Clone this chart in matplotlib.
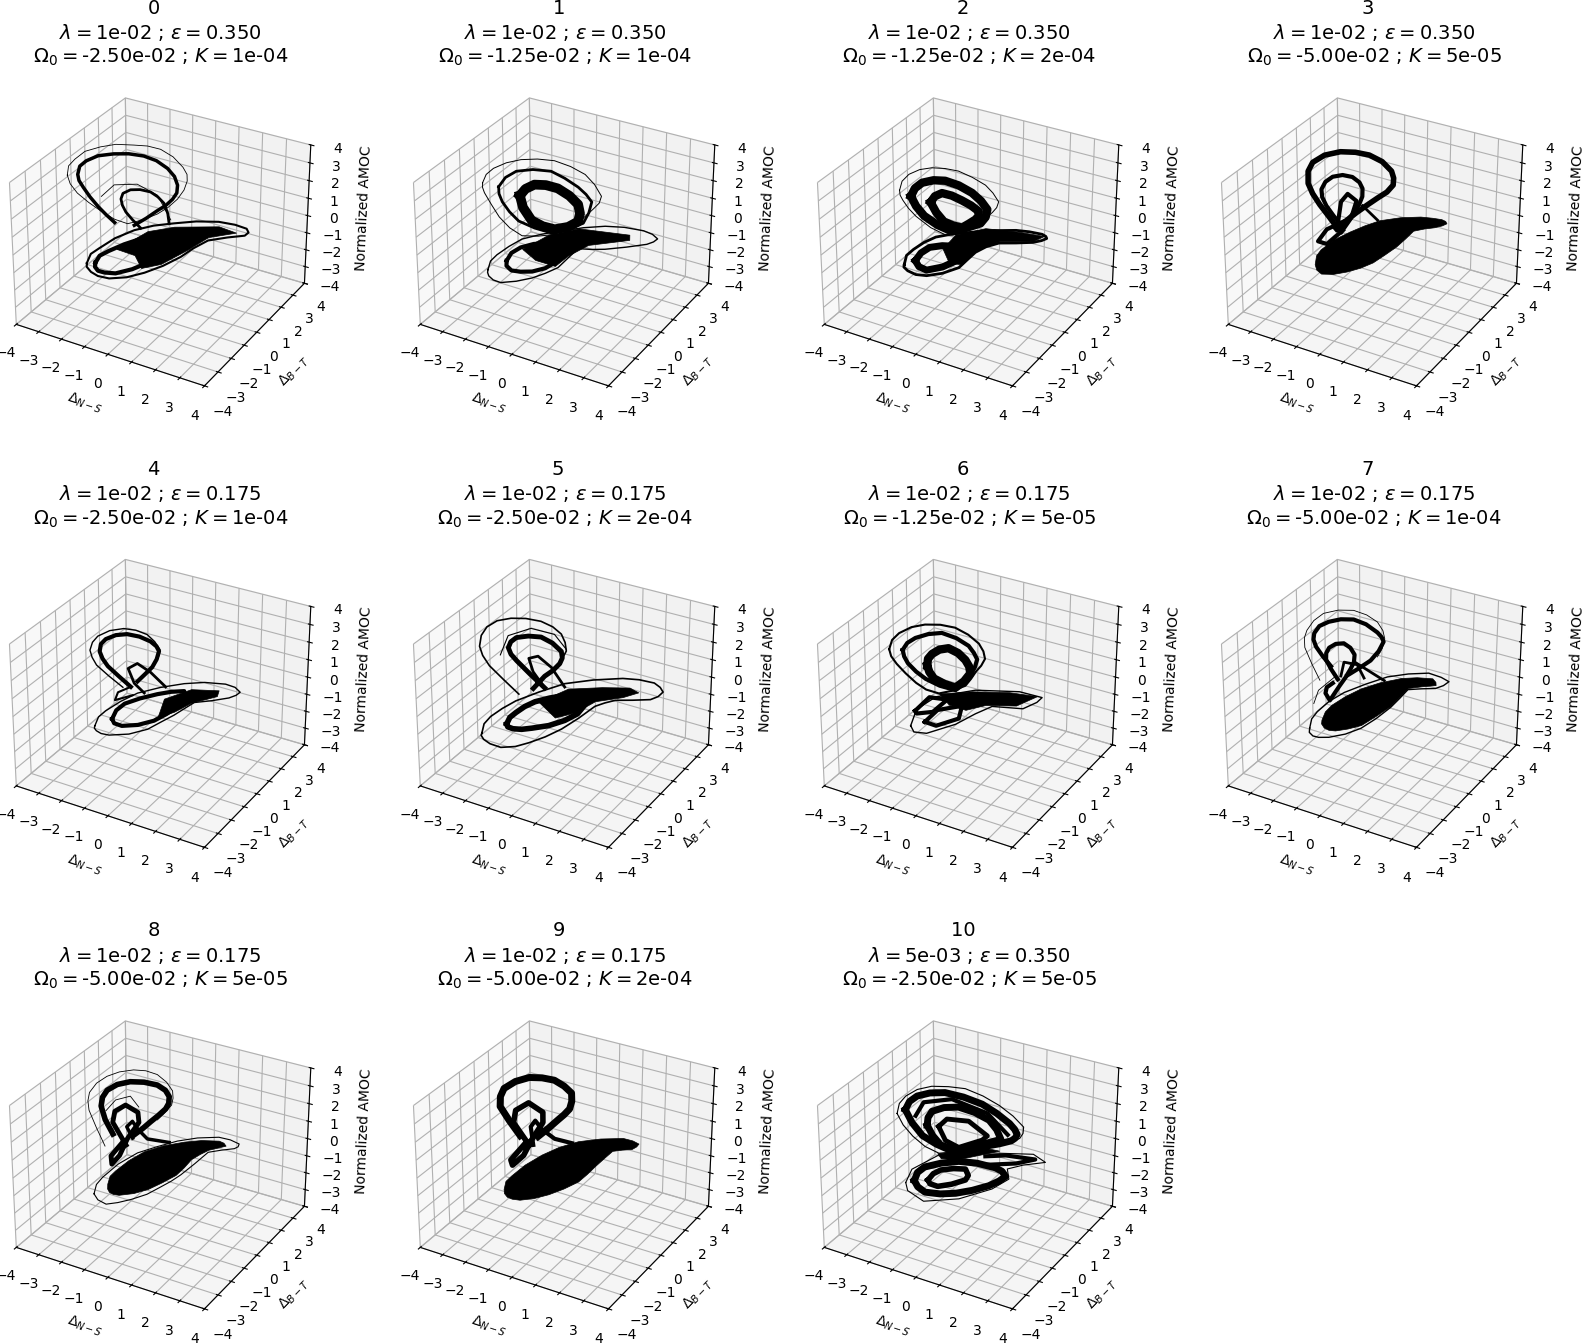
import matplotlib
matplotlib.use("Agg")
import matplotlib.pyplot as plt
import numpy as np
from mpl_toolkits.mplot3d.art3d import Poly3DCollection

# run labels of the 11 panels
lambdas = ['1e-02'] * 10 + ['5e-03']
epsilons = ['0.350', '0.350', '0.350', '0.350', '0.175', '0.175', '0.175', '0.175', '0.175', '0.175', '0.350']
omegas = ['-2.50e-02', '-1.25e-02', '-1.25e-02', '-5.00e-02', '-2.50e-02', '-2.50e-02',
          '-1.25e-02', '-5.00e-02', '-5.00e-02', '-5.00e-02', '-2.50e-02']
ks = ['1e-04', '1e-04', '2e-04', '5e-05', '1e-04', '2e-04', '5e-05', '1e-04', '5e-05', '2e-04', '5e-05']
ticks = [-4, -3, -2, -1, 0, 1, 2, 3, 4]

# trajectories. depth can't be read from one view so
# everything sits on the y = 0 plane: x is Delta N-S, z is normalized AMOC
x0 = [[-4.17,-4.1,-3.81,-3.35,-2.67,-2,-1.24,-.65,-.1,.42,.83,1.0,1.01,.88,.61,.22,-.24,-.85,-1.53,-2.1,-2.67,-3.25,-3.74,-4.05,-4.17],
      [-2.1,-2.47,-2.81,-3.17,-3.46,-3.65,-3.7,-3.6,-3.31,-2.78,-2.1,-1.45,-.81,-.28,.19,.48,.61,.58,.4,.12,-.24,-.72,-1.24],
      [.26,.2,.04,-.22,-.53,-.98,-1.39,-1.72,-1.81,-1.75,-1.6,-1.3,-.96],
      [-2.67,-2.1,-1.1,-.24,.33],
      [-3.39,-3.2,-2.81,-2.1,-1.24,-.4,.47,1.4,2.33,3,3.47,3.55,3.4,2.7,1.9,1.3,.76,0,-.81,-1.6,-2.39,-2.9,-3.21,-3.4,-3.39],
      [-3,-2.8,-2.39,-1.7,-.96,-.35,.19,-.2,-.67,-1.35,-2.1,-2.6,-2.89,-3.02,-3]]
z0 = [[1.87,2.42,2.9,3.5,3.98,4.35,4.57,4.72,4.73,4.5,4.08,3.75,3.39,2.85,2.25,1.65,1.1,.55,.06,.1,.33,.65,1.0,1.42,1.87],
      [-.09,.22,.55,.98,1.42,1.75,2.08,2.58,2.98,3.45,3.79,4.02,4.12,4.05,3.79,3.45,3.02,2.58,2.16,1.72,1.29,.68,.08],
      [.74,1.3,1.81,2.07,2.23,2.2,2.04,1.72,1.37,1.03,.7,.35,.02],
      [1.2,2.06,2.46,2.16,.98],
      [-2.97,-2.35,-1.86,-1,-.2,.38,.84,1.3,1.63,1.72,1.68,1.5,1.27,.9,.42,-.25,-.96,-1.78,-2.51,-3.1,-3.49,-3.55,-3.43,-3.2,-2.97],
      [-2.8,-2.3,-1.86,-1.2,-.59,-.42,-.44,-1.15,-1.87,-2.52,-3.07,-3.22,-3.23,-3.05,-2.8]]
w0 = [.6, 2.5, 2, .6, 1.5, 3]
fx0 = [-2.03,-.67,.47,2.33,3.04,1.9,1.04,-.1,-.96,-1.24]
fz0 = [-1.6,-.04,.65,1.38,1.3,.61,-.44,-1.71,-2.29,-1.65]

x1 = [[-3.67,-3.5,-3.17,-2.6,-1.96,-1.25,-.53,.15,.76,1.15,1.44,1.35,1.11,.87,.61,.05,-.53,-1.25,-1.96,-2.5,-2.96,-3.3,-3.6,-3.68,-3.67],
      [-2.96,-2.65,-2.17,-1.45,-.67,-.1,.47,.8,1.04,.92,.69,.05,-.67,-1.4,-2.1,-2.5,-2.81,-2.95,-2.96],
      [-2.03,-1.78,-1.39,-.9,-.39,.1,.47,.55,.47,.05,-.53,-1.05,-1.53,-1.9,-2.03],
      [-3.53,-3.4,-3.1,-2.55,-1.96,-1.1,-.24,.7,1.61,2.4,3.19,3.55,3.76,3.6,3.33,2.5,1.61,1.05,.47,.05,-.39,-.95,-1.53,-2.25,-2.96,-3.3,-3.5,-3.55,-3.53],
      [-2.67,-2.45,-2.03,-1.45,-.81,-.6,-.53,-.95,-1.53,-2.05,-2.46,-2.68,-2.67]]
z1 = [[1.62,2.15,2.61,3.12,3.52,3.8,3.96,3.88,3.66,3.25,2.71,2.3,1.89,1.5,1.1,.48,-.17,-.55,-.8,-.55,-.09,.5,1.07,1.35,1.62],
      [1.64,2.28,2.8,3.15,3.33,3.15,2.86,2.58,2.25,1.6,.93,.35,-.14,-.14,0,.38,.84,1.25,1.64],
      [1.48,1.95,2.33,2.48,2.48,2.25,1.9,1.42,.94,.48,.12,.1,.25,.85,1.48],
      [-3.42,-2.85,-2.36,-1.65,-.99,-.38,.14,.68,1.11,1.35,1.46,1.4,1.23,1,.76,.28,-.19,-.42,-.6,-1.3,-2.04,-2.6,-3.11,-3.6,-3.97,-3.95,-3.79,-3.6,-3.42],
      [-2.55,-2,-1.51,-1.08,-.78,-1.25,-1.81,-2.3,-2.73,-2.95,-3.04,-2.85,-2.55]]
w1 = [.7, 2, 7, 1, 3]
fx1 = [-1.96,-.81,.47,2.61,2.61,.9,.04,-.53,-1.39]
fz1 = [-1.57,-.3,.56,1.02,.73,-.22,-1.17,-2,-1.99]

x2 = [[-3.1,-2.98,-2.67,-2.2,-1.67,-1.1,-.53,.06,.61,.92,1.16,1.08,.9,.58,.19,-.45,-1.1,-1.75,-2.39,-2.72,-2.96,-3.08,-3.1],
      [-2.6,-2.42,-2.1,-1.6,-1.1,-.52,.04,.42,.69,.62,.4,-.2,-.81,-1.45,-2.03,-2.38,-2.6],
      [-1.74,-1.55,-1.24,-.82,-.39,0,.33,.32,.19,-.1,-.39,-.78,-1.17,-1.5,-1.74],
      [-2.96,-2.85,-2.53,-2.05,-1.53,-.75,.04,.97,1.9,2.45,2.97,3.12,3.16,2.95,2.61,1.9,1.19,.65,.19,-.18,-.53,-1.25,-1.96,-2.45,-2.81,-2.98,-2.96],
      [-2.46,-2.2,-1.81,-1.25,-.67,-.55,-.67,-1.25,-1.96,-2.3,-2.46]]
z2 = [[1.39,1.95,2.45,2.88,3.17,3.33,3.39,3.25,3.02,2.7,2.3,1.95,1.61,1.13,.62,.08,-.42,-.25,.16,.5,.87,1.12,1.39],
      [1.23,1.75,2.18,2.5,2.65,2.6,2.39,2.08,1.7,1.25,.81,.33,-.11,.02,.32,.75,1.23],
      [1.21,1.62,1.91,1.92,1.81,1.67,1.46,1.2,.95,.6,.27,.25,.32,.72,1.21],
      [-2.88,-2.3,-1.82,-1.22,-.71,-.22,.17,.62,.99,1.12,1.18,1.12,1.02,.82,.59,.28,0,-.42,-.92,-1.52,-2.1,-2.72,-3.15,-3.28,-3.2,-3.05,-2.88],
      [-2.46,-1.9,-1.42,-1.1,-.91,-1.33,-1.77,-2.35,-2.82,-2.75,-2.46]]
w2 = [.7, 6, 6, 2, 5]
fx2 = [-1.24,-.67,.61,2.04,3.04,2.61,1.19,.19,-.39,-.96]
fz2 = [-1.26,-.23,.62,.96,1.11,.67,.1,-.82,-1.84,-2]

x3 = [[-1.6,-2.0,-2.39,-2.7,-2.89,-2.88,-2.67,-2.15,-1.46,-.82,-.24,.3,.69,.78,.76,.5,.11,-.35,-.81,-1.25,-1.67],
      [-1.39,-1.78,-2.1,-2.28,-2.31,-2.13,-1.81,-1.38,-.96,-.66,-.53,-.54,-.67,-.9,-1.17,-1.39],
      [-1.6,-1.46,-1.17,-.79,-1.03,-1.46],
      [-1.39,-2.1,-2.5,-2.1,-1.39],
      [-.53,.11]]
z3 = [[-.26,.3,.83,1.35,1.86,2.55,3.12,3.7,4.13,4.32,4.37,4.2,3.82,3.47,3.08,2.6,2.13,1.55,.95,.33,-.29],
      [-.07,.4,.87,1.3,1.73,2.22,2.62,2.87,2.91,2.72,2.42,1.97,1.5,.95,.41,-.07],
      [.13,1.34,1.89,1.63,.57,-.39],
      [.22,-.48,-1.33,-1.34,-.26],
      [1.46,.88]]
w3 = [4, 3, 3, 3, 2]
fx3 = [-2.67,-2.6,-2.39,-1.8,-1.1,-.45,.19,1.05,1.9,2.4,2.76,2.92,2.97,2.78,2.47,2.05,1.61,1.28,.9,.42,-.1,-.65,-1.24,-1.85,-2.39,-2.6]
fz3 = [-2.75,-2.2,-1.76,-.95,-.23,.38,.91,1.4,1.76,1.88,1.94,1.9,1.79,1.6,1.38,1.15,.86,.3,-.31,-.95,-1.62,-2.15,-2.61,-3,-3.2,-3.05]

x4 = [[-1.39,-1.9,-2.39,-2.62,-2.74,-2.68,-2.46,-2.02,-1.53,-1,-.53,-.28,-.17,-.27,-.46,-.78,-1.1],
      [-1.74,-2.35,-2.89,-3.08,-3.17,-3.05,-2.81,-2.28,-1.67,-1.15,-.67,-.35,-.13,-.16,-.27,-.5,-.74],
      [.11,-.53,-1.1,-1.5,-1.24,-.81],
      [-1.39,-1.96,-2.1,-1.31],
      [-3.03,-2.85,-2.53,-1.85,-1.1,-.1,.9,1.75,2.61,3,3.21,3.05,2.76,2.05,1.33,.92,.47,-.1,-.67,-1.5,-2.39,-2.75,-2.96,-3.05,-3.03],
      [-2.24,-2.05,-1.67,-1,-.24,.35,.9,.85,.61,.15,-.39,-1.1,-1.81,-2.15,-2.24]]
z4 = [[.02,.42,.83,1.18,1.54,1.98,2.34,2.72,2.95,3,2.9,2.72,2.49,2,1.49,.96,.44],
      [-.14,.28,.71,1.08,1.46,1.95,2.38,2.88,3.21,3.3,3.23,2.95,2.59,2.28,1.96,1.47,.98],
      [.59,1.17,1.46,1.03,.28,-.11],
      [.02,-.51,-1.02,-.43],
      [-2.91,-2.3,-1.82,-1,-.23,.48,1.07,1.46,1.69,1.66,1.47,1.24,.98,.55,.17,-.33,-.89,-1.52,-2.16,-2.78,-3.2,-3.25,-3.17,-3.05,-2.91],
      [-2.18,-1.6,-1.06,-.5,.04,.4,.65,.15,-.35,-.95,-1.55,-2.08,-2.42,-2.4,-2.18]]
w4 = [3, 1, 2, 1.5, 1, 3]
fx4 = [.04,1.19,2.33,2.26,1.19,.47,-.24]
fz4 = [-.11,.87,1.24,.89,.1,-.69,-1.3]

x5 = [[-2.1,-2.75,-3.39,-3.68,-3.81,-3.72,-3.46,-3.0,-2.39,-1.75,-1.1,-.6,-.24,-.08,-.03,-.22,-.53],
      [-.96,-1.6,-2.17,-2.42,-2.53,-2.42,-2.17,-1.65,-1.1,-.62,-.24,-.2,-.31,-.6,-.96,-1.46],
      [-2.89,-2.53,-1.53,-.53,-.03],
      [-.1,-.67,-1.24,-1.64,-1.46,-.96],
      [-3.81,-3.7,-3.39,-2.85,-2.24,-1.2,-.1,1.1,2.33,3.0,3.61,3.85,3.97,3.78,3.47,2.75,2.04,1.6,1.19,.5,-.24,-.95,-1.67,-2.3,-2.96,-3.45,-3.74,-3.85,-3.81],
      [-2.67,-2.52,-2.24,-1.85,-1.39,-.75,-.1,.4,.76,.45,-.1,-.8,-1.53,-2,-2.39,-2.62,-2.67]]
z5 = [[-.67,-.1,.49,.97,1.45,2.1,2.67,3.18,3.53,3.74,3.81,3.68,3.41,3.0,2.55,2,1.46],
      [.12,.68,1.22,1.5,1.83,2.2,2.53,2.8,2.94,2.78,2.45,2.1,1.74,1.25,.79,-.1],
      [1.29,2.51,3.27,3.29,2.64],
      [.5,1.4,1.82,1.55,.86,.12],
      [-3.64,-3.05,-2.49,-1.8,-1.12,-.2,.69,1.35,1.9,2.08,2.13,1.98,1.77,1.45,1.16,.85,.57,.25,-.1,-1.05,-1.98,-2.72,-3.36,-3.85,-4.17,-4.15,-4,-3.8,-3.64],
      [-2.65,-2.2,-1.8,-1.3,-.84,-.38,.02,-.02,-.19,-.82,-1.42,-2,-2.44,-2.7,-2.82,-2.8,-2.65]]
w5 = [1.2, 3.5, .8, 2, 1.2, 4]
fx5 = [-1.24,.04,1.47,2.61,2.97,2.33,1.19,.33,-.53]
fz5 = [-.78,.46,1.09,1.5,1.37,.86,.19,-.79,-1.42]

x6 = [[-3.56,-3.42,-3.1,-2.55,-1.96,-1.3,-.67,-.12,.33,.52,.59,.43,.21,0,-.24,-.8,-1.39,-1.95,-2.39,-2.85,-3.24,-3.48,-3.56],
      [-2.96,-2.75,-2.39,-1.82,-1.24,-.62,-.1,.12,.26,.16,-.03,-.32,-.67,-1.35,-1.96,-2.38,-2.74,-2.9,-2.96],
      [-1.89,-1.85,-1.67,-1.35,-.96,-.55,-.24,-.08,-.03,-.3,-.67,-1.15,-1.6,-1.8,-1.89],
      [-2.67,-2.39,-1.53,.19,2.04,2.97,2.76,2.19,.9,.19,-.67,-1.96,-2.53,-2.67],
      [-2.46,-1.81,-1.03,-1.67,-2.39,-2.46],
      [-2.03,-1.46,-.39,-.53,-1.53,-2.03]]
z6 = [[1.37,1.95,2.45,2.98,3.33,3.55,3.61,3.42,3.09,2.73,2.34,1.9,1.49,1,.52,.02,-.36,-.35,-.13,.25,.65,1,1.37],
      [1.55,2.02,2.43,2.85,3.12,3.05,2.81,2.5,2.19,1.7,1.2,.65,.11,.1,.26,.52,.87,1.2,1.55],
      [1.05,1.45,1.79,2.15,2.37,2.25,1.97,1.67,1.3,.75,.25,.28,.42,.72,1.05],
      [-2.75,-1.67,-.61,.43,1.05,1.08,.73,.15,-.22,-.92,-1.87,-2.92,-3.07,-2.75],
      [-1.79,-.74,-.58,-1.54,-1.92,-1.79],
      [-2.27,-1.35,-.69,-1.48,-2.3,-2.27]]
w6 = [1.5, 3, 6, 1, 3, 3]
fx6 = [-1.39,.04,1.61,2.76,1.9,.61,-.24,-.96]
fz6 = [-.36,.31,.86,1.08,.22,-.25,-.86,-.84]

x7 = [[-1.9,-2.25,-2.54,-2.65,-2.61,-2.38,-1.97,-1.45,-.9,-.38,.1,.28,.36,.15,-.19,-.68,-1.19],
      [-2.4,-2.75,-3.04,-3.05,-2.93,-2.62,-2.19,-1.55,-.9,-.35,.1,.33,.41,.3,.1],
      [-1.61,-1.9,-2.11,-2.1,-1.97,-1.68,-1.33,-1.05,-.87,-.9,-1.04,-1.28,-1.54,-1.77,-1.97,-2.16,-2.1,-1.83],
      [-1.47,-1.33,-.76,-.47],
      [-.9,.39],
      [-2.69,-2.47,-1.69],
      [-2.9,-2.8,-2.54,-2,-1.33,-.4,.53,1.4,2.24,2.75,3.07,2.85,2.53,1.95,1.39,1.05,.67,.05,-.61,-1.3,-2.04,-2.5,-2.76,-2.92,-2.9]]
z7 = [[1.01,1.44,1.88,2.25,2.62,3.1,3.48,3.8,3.98,3.9,3.62,3.42,3.2,2.6,1.96,1.35,.75],
      [.02,.85,1.66,2.2,2.67,3.32,3.87,4.27,4.48,4.42,4.19,3.8,3.37,2.8,2.27],
      [.37,.85,1.3,1.68,2.03,2.35,2.51,2.36,2.04,1.62,1.19,.58,.01,-.52,-.99,-.64,-.28,.07],
      [.62,1.45,1.52,.87],
      [1.64,1.05],
      [-1.45,-.59,.53],
      [-2.99,-2.4,-1.87,-1.05,-.28,.55,1.31,1.8,2.16,2.12,2,1.7,1.42,1.18,.92,.3,-.36,-1.25,-2.08,-2.7,-3.19,-3.38,-3.4,-3.25,-2.99]]
w7 = [3, .6, 3, 2, 2, .6, 1]
fx7 = [-2.36,-2.2,-1.9,-1.3,-.61,.2,1.1,1.75,2.39,2.52,2.53,1.95,1.39,1.05,.67,.05,-.61,-1.2,-1.76,-2.05,-2.26,-2.38]
fz7 = [-2.27,-1.72,-1.21,-.48,.23,.88,1.46,1.75,1.93,1.78,1.61,1.32,1.01,.4,-.27,-1.08,-1.89,-2.33,-2.67,-2.75,-2.7,-2.5]

x8 = [[-2.17,-2.5,-2.67,-2.6,-2.39,-1.95,-1.39,-.8,-.24,.1,.26,.24,.11,-.2,-.53,-.88,-1.24],
      [-2.53,-2.9,-3.21,-3.25,-3.17,-2.85,-2.39,-1.85,-1.24,-.72,-.24,.15,.4,.42,.36,.08,-.24],
      [-1.6,-2.17,-2.07,-1.6,-1.07,-1.03,-1.53,-1.89,-2.24,-2.27,-1.81],
      [-1.31,-1.56,-1.31,-1.07,-.67,.26],
      [-2.46,-2.03,-1.39,-1.03],
      [-3.07,-2.95,-2.67,-1.95,-1.1,-.25,.61,1.45,2.33,2.8,3.16,3.12,2.97,2.45,1.9,1.35,.76,.35,-.1,-.7,-1.39,-2,-2.53,-2.9,-3.07]]
z8 = [[.55,1.25,1.96,2.48,2.95,3.42,3.77,3.95,3.99,3.82,3.53,3.15,2.8,2.32,1.85,1.33,.85],
      [-.28,.65,1.53,2.05,2.55,3.18,3.72,4.15,4.47,4.6,4.56,4.28,3.89,3.5,3.1,2.58,2.06],
      [.13,1.22,1.88,2.4,2.18,1.63,.54,-.58,-1.22,-.75,.12],
      [.63,1.19,1.59,1.22,.83,.98],
      [1.77,2.53,2.97,2.49],
      [-3.31,-2.7,-2.17,-1.1,-.13,.55,1.19,1.68,2.05,2.08,1.99,1.82,1.66,1.38,1.05,.2,-.67,-1.2,-1.71,-2.38,-2.96,-3.4,-3.71,-3.6,-3.31]]
w8 = [4, .6, 3.5, 2.5, .6, .8]
fx8 = [-2.46,-2.35,-2.1,-1.5,-.81,0,.9,1.6,2.33,2.52,2.61,2.3,1.9,1.55,1.19,.88,.54,-.05,-.67,-1.3,-1.96,-2.22,-2.39,-2.47]
fz8 = [-2.46,-1.95,-1.54,-.7,.08,.72,1.27,1.62,1.86,1.82,1.69,1.47,1.19,.82,.39,-.2,-.76,-1.42,-2.06,-2.55,-2.92,-2.97,-2.92,-2.75]

x9 = [[-2.03,-2.5,-2.89,-2.87,-2.7,-2.2,-1.6,-1.05,-.53,-.12,.19,.2,.11,-.12,-.39,-.8,-1.24],
      [-1.64,-2.31,-2.21,-1.64,-1.03,-1.03,-1.53,-1.89,-2.39,-2.46,-1.89],
      [-1.46,-1.56,-1.36,-1.07,-.53,.21]]
z9 = [[.51,1.2,1.86,2.42,2.94,3.5,3.93,4.1,4.15,3.97,3.7,3.25,2.8,2.4,2,1.38,.76],
      [.11,1.15,1.88,2.51,2.2,1.63,.45,-.58,-1.34,-1.06,0],
      [.19,1.19,1.61,1.22,.89,.92]]
w9 = [5, 4, 3]
fx9 = [-2.81,-2.72,-2.46,-1.85,-1.1,-.35,.47,1.4,2.33,2.72,2.97,2.88,2.69,2.3,1.9,1.55,1.19,.85,.47,-.15,-.81,-1.45,-2.1,-2.45,-2.67,-2.8]
fz9 = [-2.91,-2.4,-1.98,-1.1,-.23,.5,1.13,1.63,2.01,2.02,1.94,1.75,1.53,1.35,1.13,.58,0,-.58,-1.17,-1.82,-2.42,-2.9,-3.27,-3.35,-3.32,-3.15]

x10 = [[-3.21,-3.1,-2.81,-2.3,-1.67,-.95,-.24,.5,1.19,1.75,2.19,2.17,2.04,1.72,1.33,.6,-.1,-.75,-1.39,-2,-2.53,-2.95,-3.21],
       [-2.84,-2.65,-2.31,-1.75,-1.1,-.32,.47,1.08,1.61,1.82,1.93,1.85,1.69,1.2,.61,-.1,-.81,-1.5,-2.1,-2.55,-2.84],
       [-1.89,-1.85,-1.67,-1.15,-.53,.15,.76,1.08,1.26,.4,-.53,-.95,-1.31,-1.65,-1.89],
       [-1.39,-1.03,-.1,.69,.47,-.53,-1.1,-1.39],
       [-2.39,-2.03,-.81,.69,1.54],
       [-2.89,-2.6,-1.39,.76,2.61,3.11,2.19,1.54,1.61,.9,-.53,-2.1,-2.81,-2.89],
       [-2.5,-2.35,-2.03,-1.3,-.53,.25,1.04,1.32,1.47,1.2,.76,.05,-.67,-1.35,-2.03,-2.35,-2.5],
       [-1.89,-1.65,-1.31,-.75,-.24,-.12,-.24,-.85,-1.46,-1.8,-1.89],
       [.61,1.47,2.69,1.9,.76]]
z10 = [[1.34,1.95,2.47,3.02,3.42,3.65,3.79,3.65,3.37,3,2.56,2.2,1.88,1.55,1.26,.83,.4,.05,-.26,-.1,.29,.78,1.34],
       [1.69,2.22,2.65,3.02,3.27,3.3,3.19,2.9,2.54,2.3,2.06,1.82,1.61,1.26,.9,.48,.08,.22,.48,1.05,1.69],
       [1.15,1.6,2.02,2.42,2.67,2.62,2.41,2.0,1.53,.9,.31,.22,.25,.65,1.15],
       [1.27,1.82,2.04,1.51,1.19,.4,.58,1.27],
       [1.51,2.4,3.01,2.76,1.89],
       [-2.56,-1.66,-.36,.58,1.21,.95,.44,-.03,-.58,-1.43,-2.58,-3.36,-3.01,-2.56],
       [-2.29,-1.75,-1.31,-.8,-.4,-.2,-.16,-.25,-.48,-.85,-1.3,-1.85,-2.31,-2.62,-2.79,-2.6,-2.29],
       [-2.02,-1.55,-1.2,-.9,-.73,-1.05,-1.36,-1.85,-2.22,-2.2,-2.02],
       [.33,.71,.95,.42,-.09]]
w10 = [.8, 5, 5, 3.5, 3, .8, 5, 4, 3]
fx10 = [-1.46,.61,1.19,-.53,-1.31]
fz10 = [-.29,.81,.87,-.27,-.52]

all_x = [x0, x1, x2, x3, x4, x5, x6, x7, x8, x9, x10]
all_z = [z0, z1, z2, z3, z4, z5, z6, z7, z8, z9, z10]
all_w = [w0, w1, w2, w3, w4, w5, w6, w7, w8, w9, w10]
all_fx = [fx0, fx1, fx2, fx3, fx4, fx5, fx6, fx7, fx8, fx9, fx10]
all_fz = [fz0, fz1, fz2, fz3, fz4, fz5, fz6, fz7, fz8, fz9, fz10]

W = 1584
H = 1343
side = 335
fig = plt.figure(figsize=(W / 100, H / 100), dpi=100)

for i in range(11):
    row = i // 4
    col = i % 4
    # axes centre in pixels
    cx = 158.5 + 404 * col
    cy = 239.5 + 461.5 * row
    ax = fig.add_axes([(cx - side / 2) / W, 1 - (cy + side / 2) / H, side / W, side / H],
                      projection='3d')
    ax.patch.set_alpha(0)
    for xs, zs, w in zip(all_x[i], all_z[i], all_w[i]):
        xs = np.array(xs)
        ax.plot(xs, np.zeros_like(xs), zs, color='k', lw=w, solid_joinstyle='round')
    fx = np.array(all_fx[i])
    verts = [list(zip(fx, np.zeros_like(fx), all_fz[i]))]
    ax.add_collection3d(Poly3DCollection(verts, facecolor='k', edgecolor='k', linewidth=.5))
    ax.set_xlim(-4, 4)
    ax.set_ylim(-4, 4)
    ax.set_zlim(-4, 4)
    ax.set_xticks(ticks)
    ax.set_yticks(ticks)
    ax.set_zticks(ticks)
    ax.set_xlabel(r'$\Delta_{N-S}$')
    ax.set_ylabel(r'$\Delta_{B-T}$')
    ax.set_zlabel('Normalized AMOC')
    # the run number has trailing blanks in the original, so it sits left of centre
    title = str(i) + '  \n' + r'$\lambda = $' + lambdas[i] + r' ; $\epsilon = $' + epsilons[i] + '\n' \
        + r'$\Omega_0 = $' + omegas[i] + r' ; $K = $' + ks[i]
    fig.text((cx + 2 + .5 * col) / W, 1 - (-1.5 + 461.5 * row) / H, title, ha='center', va='top',
             fontsize=14, linespacing=1.25)

fig.savefig('out.png', dpi=100)
